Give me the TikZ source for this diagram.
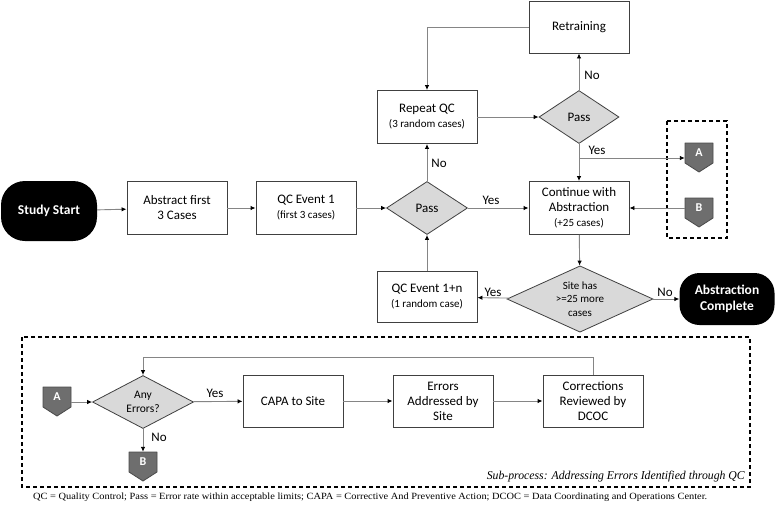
\documentclass[tikz,border=0pt]{standalone}
\usepackage{fontspec}
\setmainfont{Carlito}
\newfontfamily\notefont{Liberation Serif}
\usetikzlibrary{arrows.meta,shapes.geometric}
\definecolor{linegray}{HTML}{858585}
\definecolor{boxedge}{HTML}{404040}
\definecolor{diafill}{HTML}{D9D9D9}
\definecolor{markfill}{HTML}{6E6E6E}
\definecolor{markedge}{HTML}{4A4A4A}
\newcommand\mymarker[4]{%
  \filldraw[fill=markfill,draw=markedge,line width=0.8pt,line join=round]
    (#2-14,#3) -- (#2+14,#3) -- (#2+14,#3+20) -- (#2,#3+29) -- (#2-14,#3+20) -- cycle;
  \node[markertext] (#1) at (#2,#3+10) {#4};}
\begin{document}
\begin{tikzpicture}[x=1pt,y=-1pt,
  every node/.style={font=\fontsize{13}{15}\selectfont},
  procbox/.style={draw=boxedge,line width=0.9pt,fill=white,minimum width=100pt,minimum height=53pt,align=center,inner sep=2pt},
  termbox/.style={fill=black,text=white,rounded corners=24pt,align=center,font=\fontsize{13.5}{16}\selectfont\bfseries,inner sep=0pt},
  decbox/.style={diamond,draw=boxedge,line width=0.8pt,fill=diafill,aspect=1.53,inner sep=0pt,align=center},
  markertext/.style={minimum width=28pt,minimum height=20pt,inner sep=0pt,text=white,font=\fontsize{12}{14}\selectfont\bfseries},
  conn/.style={draw=linegray,line width=0.9pt,-{Latex[length=5pt,width=4.5pt,color=black]}},
  lbl/.style={inner sep=0pt,font=\fontsize{13}{15}\selectfont},
  dashbox/.style={draw=black,line width=1.3pt,dash pattern=on 4pt off 3pt}]
\useasboundingbox (0,0) rectangle (777,507);
\fill[white] (0,0) rectangle (777,507);

% top flow
\node[termbox,minimum width=96pt,minimum height=60pt] (start) at (49,211) {Study Start};
\node[procbox] (abs) at (177,208) {Abstract first\\3 Cases};
\node[procbox] (qc1) at (306,208) {QC Event 1\\{\fontsize{11}{13}\selectfont (first 3 cases)}};
\node[decbox,minimum width=81pt,minimum height=53pt] (pass1) at (427,208) {Pass};
\node[procbox] (cont) at (579,208) {Continue with\\Abstraction\\{\fontsize{11}{13}\selectfont (+25 cases)}};
\node[procbox] (rep) at (427,117) {Repeat QC\\{\fontsize{11}{13}\selectfont (3 random cases)}};
\node[procbox,minimum height=52pt] (retr) at (579,27) {Retraining};
\node[decbox,minimum width=80pt,minimum height=53pt] (pass2) at (579,117) {Pass};
\node[procbox,minimum height=51pt] (qcn) at (427,297) {QC Event 1+n\\{\fontsize{11}{13}\selectfont (1 random case)}};
\node[decbox,minimum width=146pt,minimum height=53pt,font=\fontsize{11}{13.5}\selectfont] (site) at (580,299) {Site has\\>=25 more\\cases};
\node[termbox,minimum width=95pt,minimum height=52pt,rounded corners=20pt] (comp) at (727,299) {Abstraction\\Complete};

% dashed box A/B
\draw[dashbox] (667,121) rectangle (727,238);
\mymarker{A}{699}{143}{A}
\mymarker{B}{699}{198}{B}

% connectors top
\draw[conn] (start) -- (abs);
\draw[conn] (abs) -- (qc1);
\draw[conn] (qc1) -- (pass1);
\draw[conn] (pass1) -- (cont);
\draw[conn] (pass1) -- (rep);
\draw[conn] (rep) -- (pass2);
\draw[conn] (pass2) -- (retr);
\draw[conn] (retr.west) -| (rep.north);
\draw[conn] (pass2.south) -- (cont.north);
\coordinate (ya) at (579,158);
\draw[conn] (ya) -- (A.west |- ya);
\draw[conn] (B.west) -- (cont.east |- B.west);
\draw[conn] (cont) -- (site);
\draw[conn] (site) -- (qcn);
\draw[conn] (site) -- (comp);
\draw[conn] (qcn) -- (pass1);

% labels top
\node[lbl] (l1) at (491,200) {Yes};
\node[lbl] (l2) at (439,163) {No};
\node[lbl] (l3) at (592,75) {No};
\node[lbl] (l4) at (597,150) {Yes};
\node[lbl] (l5) at (493,292) {Yes};
\node[lbl] (l6) at (665,292) {No};

% sub-process
\draw[dashbox] (22,337) rectangle (750,487);
\mymarker{A2}{57}{387}{A}
\node[decbox,minimum width=101pt,minimum height=53pt,font=\fontsize{11.5}{14}\selectfont] (err) at (143,402) {Any\\Errors?};
\node[procbox,minimum height=52pt] (capa) at (293,401) {CAPA to Site};
\node[procbox,minimum height=52pt] (ead) at (443,401) {Errors\\Addressed by\\Site};
\node[procbox,minimum height=52pt] (corr) at (593,401) {Corrections\\Reviewed by\\DCOC};
\mymarker{B2}{143}{452}{B}

\draw[conn] (A2.east |- err.west) -- (err.west);
\draw[conn] (err) -- (capa);
\draw[conn] (capa) -- (ead);
\draw[conn] (ead) -- (corr);
\coordinate (fb) at (593,357);
\draw[conn] (corr.north) -- (fb) -| (err.north);
\draw[conn] (err.south) -- (B2.north);
\node[lbl] (l7) at (215,393) {Yes};
\node[lbl] (l8) at (159,437) {No};

\node[inner sep=0pt,anchor=east] (sub) at (745,477) {\resizebox{258pt}{\height}{\notefont\itshape\fontsize{12}{14}\selectfont Sub-process: Addressing Errors Identified through QC}};
\node[inner sep=0pt,anchor=west] (note) at (33,497) {\resizebox{674pt}{\height}{\notefont\fontsize{9.5}{11}\selectfont QC = Quality Control; Pass = Error rate within acceptable limits; CAPA = Corrective And Preventive Action; DCOC = Data Coordinating and Operations Center.}};
\end{tikzpicture}
\end{document}
